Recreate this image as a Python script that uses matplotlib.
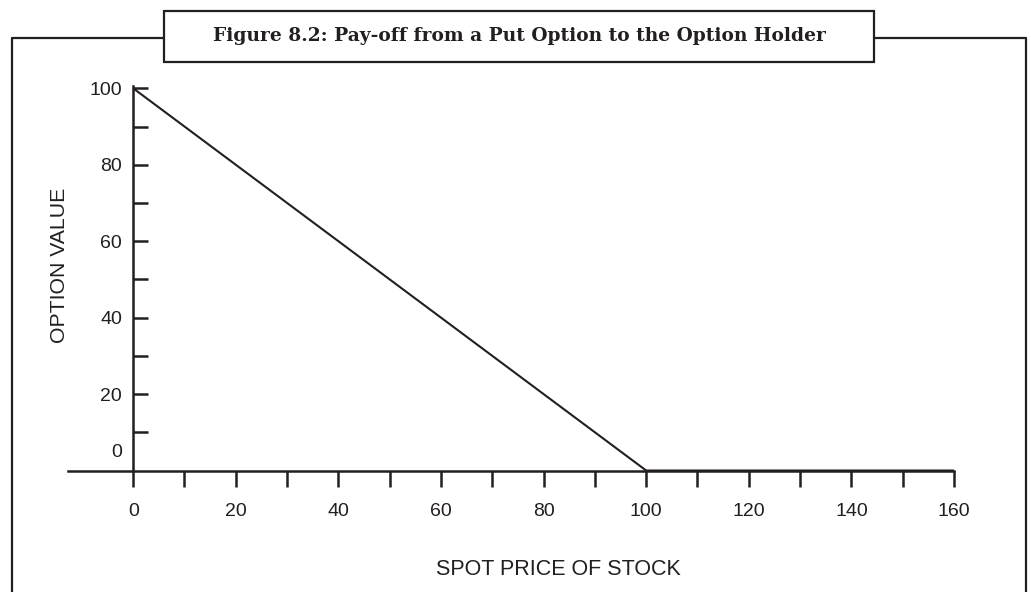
import matplotlib.pyplot as plt
from matplotlib.lines import Line2D
from matplotlib.patches import Rectangle

# payoff of a put with strike 100
spot = [0, 100, 160]
value = [100, 0, 0]
x_ticks = [0, 20, 40, 60, 80, 100, 120, 140, 160]
y_ticks = [20, 40, 60, 80, 100]

title = "Figure 8.2: Pay-off from a Put Option to the Option Holder"
black = "#231f20"

plt.rcParams['font.family'] = ['Liberation Sans', 'DejaVu Sans']

fig = plt.figure(figsize=(10.31, 5.92), dpi=100)

# outer frame with the title box sitting on its top edge
fig.add_artist(Line2D([0.0116, 0.0116, 0.995, 0.995], [0.0, 0.9358, 0.9358, 0.0],
                      transform=fig.transFigure, color=black, lw=1.6))
fig.add_artist(Rectangle((0.159, 0.8953), 0.689, 0.0861, transform=fig.transFigure,
                         facecolor="white", edgecolor=black, lw=1.6, zorder=3))
fig.text(0.5034, 0.9395, title, ha="center", va="center", fontsize=13.4,
         fontweight="bold", family="DejaVu Serif", color=black, zorder=4)

ax = fig.add_axes([0.0660, 0.2052, 0.8593, 0.6495])
ax.plot(spot, value, color=black, lw=1.5, solid_capstyle="butt")
ax.set_xlim(-12.7, 160)
ax.set_ylim(0, 100.6)

for s in ["top", "right"]:
    ax.spines[s].set_visible(False)
ax.spines["left"].set_position(("data", 0))
for s in ["left", "bottom"]:
    ax.spines[s].set_linewidth(1.8)
    ax.spines[s].set_color(black)

ax.set_xticks(x_ticks)
ax.set_xticks(range(10, 160, 20), minor=True)
ax.set_yticks(y_ticks)
ax.set_yticks(range(10, 100, 20), minor=True)
ax.tick_params(axis="x", which="both", direction="out", length=11.5, width=1.8,
               color=black, labelsize=14, pad=12, labelcolor=black)
ax.tick_params(axis="y", which="both", direction="in", length=11, width=1.8,
               color=black, labelsize=14, pad=8, labelcolor=black)
ax.annotate("0", xy=(0, 0), xytext=(-8, 13), textcoords="offset points",
            ha="right", va="center", fontsize=14, color=black)

ax.set_xlabel("SPOT PRICE OF STOCK", fontsize=15.5, color=black)
ax.xaxis.set_label_coords(0.553, -0.231)
ax.set_ylabel("OPTION VALUE", fontsize=15.3, color=black)
ax.yaxis.set_label_coords(0.001, 0.534)

fig.savefig("out.png", dpi=100)
